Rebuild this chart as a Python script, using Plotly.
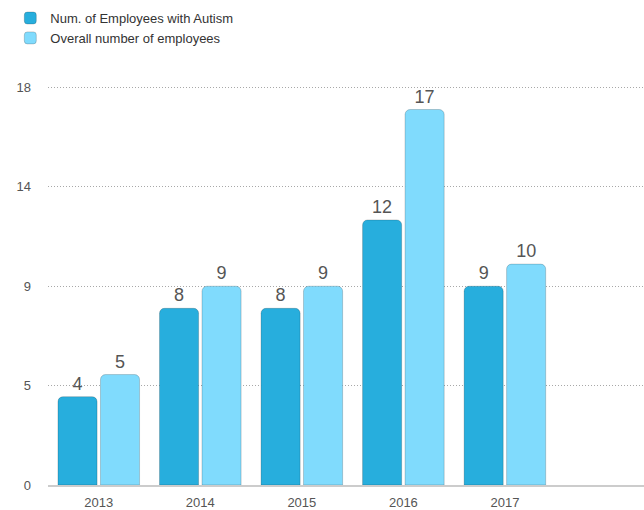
import plotly.graph_objects as go

years = ["2013", "2014", "2015", "2016", "2017"]
autism_employees = [4, 8, 8, 12, 9]
overall_employees = [5, 9, 9, 17, 10]

y_tick_vals = [0, 4.5, 9, 13.5, 18]
y_tick_text = ["0", "5", "9", "14", "18"]

dark_blue = "#27AEDD"
light_blue = "#80DBFD"
label_color = "#555555"
font_family = "Liberation Sans, Arial, sans-serif"

fig = go.Figure()
fig.add_trace(go.Bar(
    name="Num. of Employees with Autism",
    x=years, y=autism_employees,
    text=[str(v) for v in autism_employees],
    textposition="outside",
    textfont=dict(size=18, color=label_color, family=font_family),
    marker=dict(color=dark_blue, cornerradius=5,
                line=dict(color="rgba(0,0,0,0.18)", width=1)),
    cliponaxis=False,
))
fig.add_trace(go.Bar(
    name="Overall number of employees",
    x=years, y=overall_employees,
    text=[str(v) for v in overall_employees],
    textposition="outside",
    textfont=dict(size=18, color=label_color, family=font_family),
    marker=dict(color=light_blue, cornerradius=5,
                line=dict(color="rgba(0,0,0,0.18)", width=1)),
    cliponaxis=False,
))

fig.update_layout(
    width=644, height=510,
    margin=dict(l=48, r=0, t=83, b=25, autoexpand=False),
    paper_bgcolor="white", plot_bgcolor="white",
    barmode="group", bargap=0.163, bargroupgap=0.08,
    font=dict(family=font_family, size=13, color=label_color),
    legend=dict(
        xref="container", yref="container",
        x=0.016, y=0.994, xanchor="left", yanchor="top",
        orientation="v", font=dict(size=13, color="#333333"),
        bgcolor="rgba(0,0,0,0)", itemclick=False, tracegroupgap=0,
    ),
    xaxis=dict(
        type="category", range=[-0.5, 5.37],
        showgrid=False, showline=True, linecolor="#cccccc", linewidth=2,
        ticks="", ticklabelstandoff=4,
        tickfont=dict(size=13, color=label_color),
        fixedrange=True,
    ),
    yaxis=dict(
        range=[0, 18.2], tickvals=y_tick_vals, ticktext=y_tick_text,
        showgrid=True, gridcolor="#a8a8a8", griddash="1px,2px", gridwidth=1,
        zeroline=False, showline=False, ticks="",
        ticklabelstandoff=16,
        tickfont=dict(size=13, color=label_color),
        fixedrange=True,
    ),
)

fig.write_html("out.html")
